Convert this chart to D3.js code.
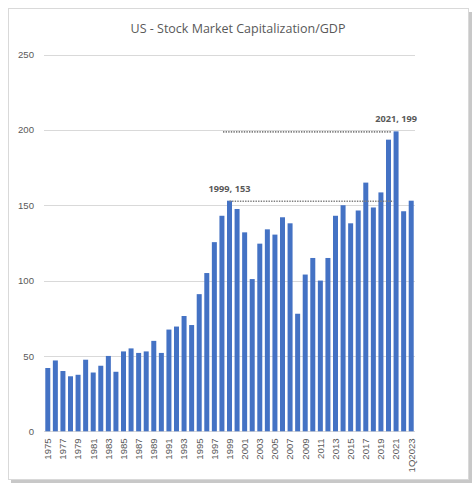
<!DOCTYPE html>
<html>
<head>
<meta charset="utf-8">
<script src="https://cdn.jsdelivr.net/npm/d3@7"></script>
<style>
  body { margin: 0; background: #fff; }
  svg { display: block; }
</style>
</head>
<body>
<div id="chart"></div>
<script>
  // Chart values
  var categories = ['1975', '1976', '1977', '1978', '1979', '1980', '1981', '1982', '1983', '1984',
    '1985', '1986', '1987', '1988', '1989', '1990', '1991', '1992', '1993', '1994',
    '1995', '1996', '1997', '1998', '1999', '2000', '2001', '2002', '2003', '2004',
    '2005', '2006', '2007', '2008', '2009', '2010', '2011', '2012', '2013', '2014',
    '2015', '2016', '2017', '2018', '2019', '2020', '2021', '2022', '1Q2023'];
  var values = [42, 47, 40, 36.5, 37.5, 47.5, 39, 43.5, 50, 39.5,
    53, 55, 52, 53, 60, 52, 67.5, 69.5, 76.5, 70.5,
    91, 105, 125.5, 143, 153, 147.5, 132, 101, 124.5, 134,
    130.5, 142, 138, 78, 104, 115, 100, 115, 143, 150,
    138, 146.5, 165, 148.5, 158.5, 193.5, 199, 146, 153];
  var yTicks = [0, 50, 100, 150, 200, 250];
  // callouts: label text, category it sits on, level, where the dotted line ends
  var callouts = [
    { cat: '1999', value: 153, text: '1999, 153', to: '2021' },
    { cat: '2021', value: 199, text: '2021, 199', from: '1999' }
  ];

  var width = 473, height = 485;
  var grey = '#595959';

  var svg = d3.select('#chart').append('svg')
      .attr('width', width)
      .attr('height', height);

  // shadowed frame
  svg.append('rect')
      .attr('x', 11).attr('y', 12)
      .attr('width', 461).attr('height', 471)
      .attr('fill', '#c8c8c8');
  svg.append('rect')
      .attr('x', 8.5).attr('y', 8.5)
      .attr('width', 460).attr('height', 471)
      .attr('fill', '#fff')
      .attr('stroke', '#d9d9d9');

  svg.append('text')
      .attr('x', 238).attr('y', 33)
      .attr('text-anchor', 'middle')
      .attr('font-family', 'Open Sans, sans-serif')
      .attr('font-size', 12.5)
      .attr('fill', grey)
      .text('US - Stock Market Capitalization/GDP');

  var x = d3.scaleBand()
      .domain(categories)
      .range([44, 415])
      .paddingInner(0.34)
      .paddingOuter(0.17);

  var y = d3.scaleLinear()
      .domain([0, 250])
      .range([431.3, 54.5]);

  // grid lines
  svg.append('g')
      .selectAll('line')
      .data(yTicks)
      .enter()
      .append('line')
      .attr('x1', 44).attr('x2', 415)
      .attr('y1', function(d) { return Math.round(y(d)) + 0.5; })
      .attr('y2', function(d) { return Math.round(y(d)) + 0.5; })
      .attr('stroke', '#d9d9d9');

  // y axis labels
  var yAxis = svg.append('g')
      .attr('transform', 'translate(34,0)')
      .call(d3.axisLeft(y).tickValues(yTicks).tickSize(0).tickPadding(0));
  yAxis.select('.domain').remove();
  yAxis.selectAll('text')
      .attr('font-family', 'Liberation Sans, Arial, sans-serif')
      .attr('font-size', 9.6)
      .attr('fill', grey);

  svg.append('g')
      .selectAll('rect')
      .data(values)
      .enter()
      .append('rect')
      .attr('x', function(d, i) { return x(categories[i]); })
      .attr('width', x.bandwidth())
      .attr('y', function(d) { return y(d); })
      .attr('height', function(d) { return y(0) - y(d); })
      .attr('fill', '#4472c4');

  // x axis labels, every other category plus the last one
  var xLabels = categories.filter(function(c, i) {
    return i % 2 === 0;
  });
  var xAxis = svg.append('g')
      .attr('transform', 'translate(0,' + y(0) + ')')
      .call(d3.axisBottom(x).tickValues(xLabels).tickSize(0).tickPadding(0));
  xAxis.select('.domain').remove();
  xAxis.selectAll('text')
      .attr('font-family', 'Liberation Sans, Arial, sans-serif')
      .attr('font-size', 9.6)
      .attr('fill', grey)
      .attr('text-anchor', 'end')
      .attr('dy', '0.35em')
      .attr('transform', 'translate(0,7) rotate(-90)');

  // dotted reference lines
  svg.append('g')
      .selectAll('line')
      .data(callouts)
      .enter()
      .append('line')
      .attr('x1', function(d) {
        return d.to ? x(d.cat) + x.bandwidth() / 2 : x(d.from) - 4;
      })
      .attr('x2', function(d) {
        return d.to ? x(d.to) : x(d.cat) - 2;
      })
      .attr('y1', function(d) { return y(d.value) + 0.5; })
      .attr('y2', function(d) { return y(d.value) + 0.5; })
      .attr('stroke', '#7f7f7f')
      .attr('stroke-width', 1.6)
      .attr('stroke-dasharray', '1.4,1.2');

  svg.append('g')
      .selectAll('text')
      .data(callouts)
      .enter()
      .append('text')
      .attr('x', function(d) { return x(d.cat) + x.bandwidth() / 2; })
      .attr('y', function(d) { return y(d.value) - 9; })
      .attr('text-anchor', 'middle')
      .attr('font-family', 'Open Sans, sans-serif')
      .attr('font-weight', 'bold')
      .attr('font-size', 9.2)
      .attr('fill', grey)
      .text(function(d) { return d.text; });
</script>
</body>
</html>
